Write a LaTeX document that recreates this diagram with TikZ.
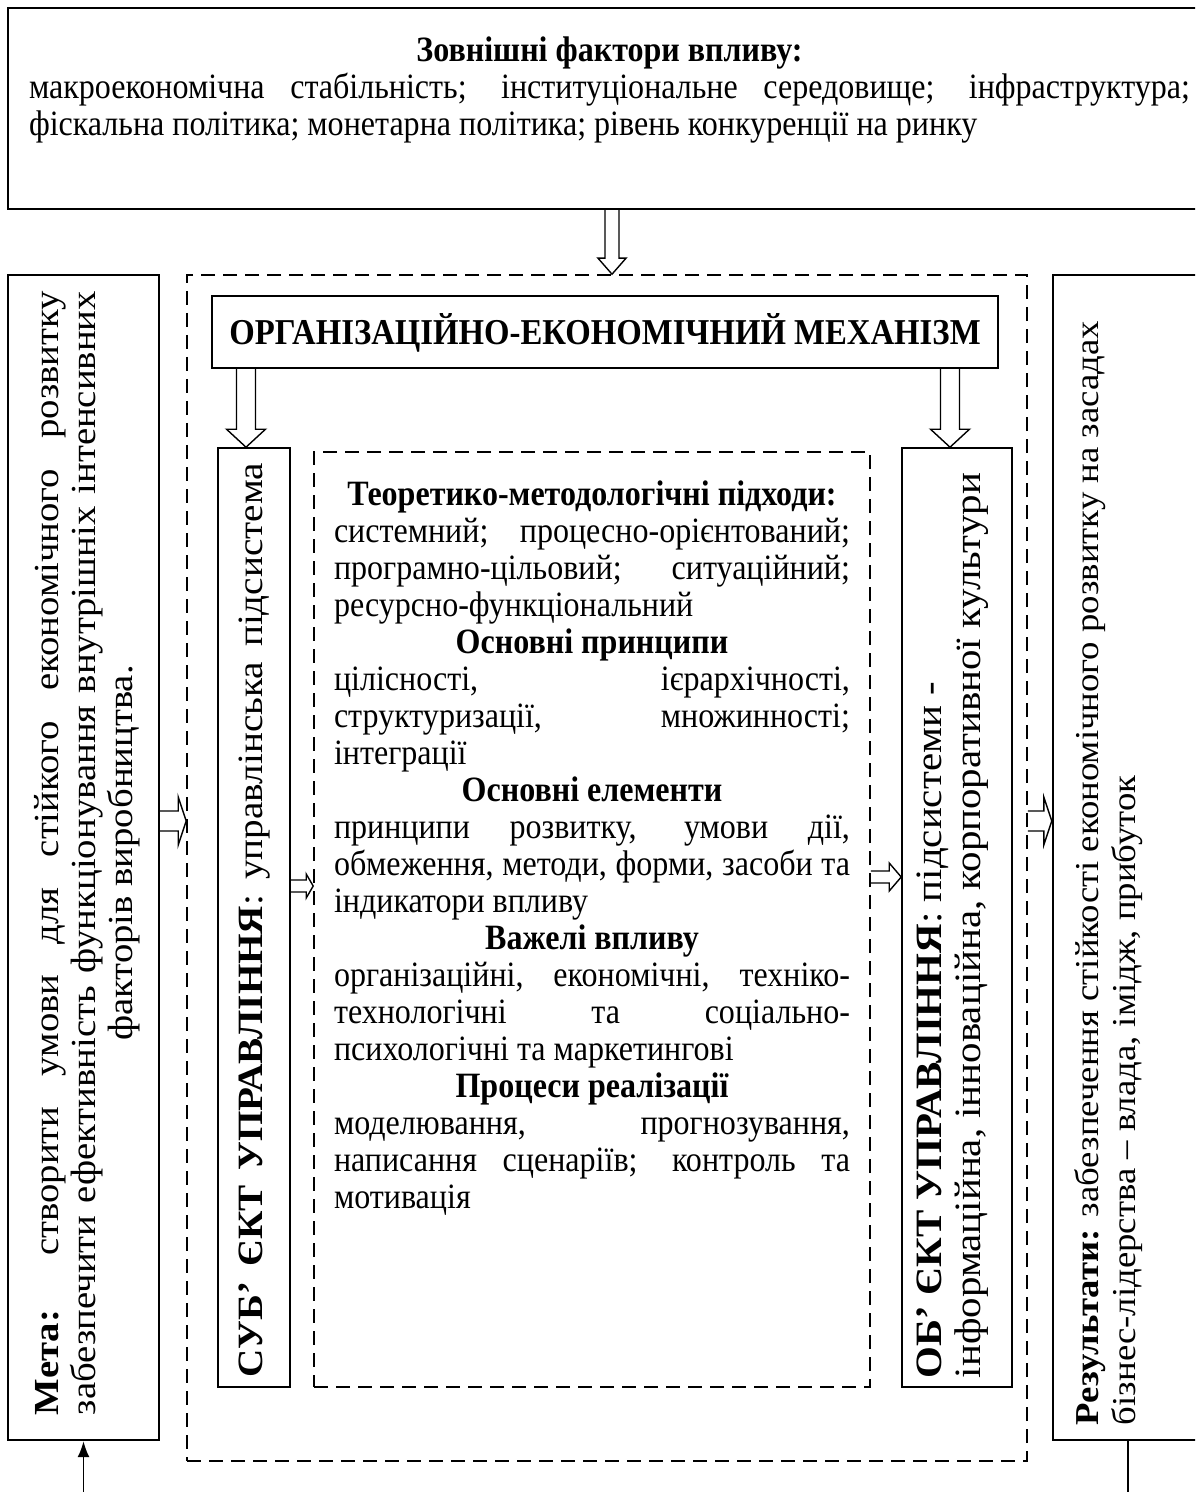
\documentclass[tikz,border=0pt]{standalone}
\usepackage{fontspec}
\setmainfont{Liberation Serif}[FakeStretch=0.9]
\newfontfamily\rotfont{Liberation Serif}[FakeStretch=1.1]
\usetikzlibrary{calc,fit,arrows.meta}
\hyphenpenalty=10000
\exhyphenpenalty=10000
\begin{document}
\begin{tikzpicture}[x=0.5pt,y=-0.5pt,
  font=\fontsize{17.8pt}{18.5pt}\selectfont,
  outerbox/.style={draw, line width=1.2pt, inner sep=0pt},
  innerbox/.style={draw, line width=0.8pt, inner sep=0pt},
  dashbox/.style={draw, line width=0.8pt, dash pattern=on 7pt off 4pt, inner sep=0pt},
  txt/.style={inner sep=0pt, outer sep=0pt},
  hollowdown/.style n args={3}{line width=0.7pt, to path={let \p1=(\tikztostart), \p2=(\tikztotarget) in
     (\x1-#1,\y1) -- (\x1-#1,\y2+#3) -- (\x1-#2,\y2+#3) -- (\x1,\y2) -- (\x1+#2,\y2+#3) -- (\x1+#1,\y2+#3) -- (\x1+#1,\y1)}},
  hollowright/.style n args={3}{line width=0.7pt, to path={let \p1=(\tikztostart), \p2=(\tikztotarget) in
     (\x1,\y1+#1) -- (\x2-#3,\y1+#1) -- (\x2-#3,\y1+#2) -- (\x2,\y1) -- (\x2-#3,\y1-#2) -- (\x2-#3,\y1-#1) -- (\x1,\y1-#1)}},
  feed/.style={line width=0.8pt},
]
\clip (0,0) rectangle (1195,1492);
\fill[white] (0,0) rectangle (1195,1492);

% boxes
\node[outerbox, fit={(8,8) (1240,209)}] (topbox) {};
\node[outerbox, fit={(8,275) (159,1440)}] (meta) {};
\node[outerbox, fit={(1053,275) (1240,1440)}] (res) {};
\node[dashbox, fit={(187,275) (1027,1461)}] (outer) {};
\node[innerbox, fit={(212,296) (998,368)}] (mech) {};
\node[innerbox, fit={(218,448) (290,1387)}] (sub) {};
\node[innerbox, fit={(902,448) (1012,1387)}] (ob) {};
\node[dashbox, fit={(314,452) (870,1387)}] (inner) {};

% texts
\node[txt, anchor=north, text width=580.5pt, align=justify] (toptext) at (609.5,36)
 {{\centering\bfseries\strut Зовнішні фактори впливу:\par}
  макроекономічна стабільність; інституціональне середовище; інфраструктура;\linebreak
  фіскальна політика; монетарна політика; рівень конкуренції на ринку};

\node[txt, anchor=base, font=\fontsize{18.2pt}{20pt}\selectfont\bfseries] (mechtext) at (605,344)
 {ОРГАНІЗАЦІЙНО-ЕКОНОМІЧНИЙ МЕХАНІЗМ};

\node[txt, anchor=north, text width=258pt, align=justify] (innertext) at (592,480)
 {{\centering\bfseries\strut Теоретико-методологічні підходи:\par}
  системний; процесно-орієнтований;\linebreak програмно-цільовий; ситуаційний;\linebreak ресурсно-функціональний\par
  {\centering\bfseries Основні принципи\par}
  цілісності, ієрархічності,\linebreak структуризації, множинності;\linebreak інтеграції\par
  {\centering\bfseries Основні елементи\par}
  принципи розвитку, умови дії,\linebreak обмеження, методи, форми, засоби та\linebreak індикатори впливу\par
  {\centering\bfseries Важелі впливу\par}
  організаційні, економічні, техніко-\linebreak технологічні та соціально-\linebreak психологічні та маркетингові\par
  {\centering\bfseries Процеси реалізації\par}
  моделювання, прогнозування,\linebreak написання сценаріїв; контроль та\linebreak мотивація};

\node[txt, rotate=90, anchor=north, align=center, font=\rotfont\fontsize{17.6pt}{18.6pt}\selectfont] (metatext) at (32,853)
 {\makebox[562pt][s]{\strut\textbf{Мета:} створити умови для стійкого економічного розвитку}\\
  \makebox[562pt][s]{забезпечити ефективність функціонування внутрішніх інтенсивних}\\
  факторів виробництва.};

\node[txt, rotate=90, anchor=north west, align=left, font=\rotfont\fontsize{16.7pt}{18.5pt}\selectfont] (restext) at (1073,1425)
 {\strut\textbf{Результати:} забезпечення стійкості економічного розвитку на засадах\\
  бізнес-лідерства – влада, імідж, прибуток};

\node[txt, rotate=90, anchor=north west, align=left, font=\rotfont\fontsize{18.6pt}{17.5pt}\selectfont] (obtext) at (917,1378)
 {\strut\textbf{ОБ’ ЄКТ УПРАВЛІННЯ}: підсистеми -\\
  інформаційна, інноваційна, корпоративної культури};

\node[txt, rotate=90, anchor=north west, font=\rotfont\fontsize{17.8pt}{18.5pt}\selectfont] (subtext) at (237,1377)
 {\makebox[457pt][s]{\strut\textbf{СУБ’ ЄКТ УПРАВЛІННЯ}: управлінська підсистема}};

% block arrows
\coordinate (xa) at (612,0);
\coordinate (xb) at (246,0);
\coordinate (xc) at (950,0);
\draw[hollowdown={3.5pt}{7pt}{8pt}] (topbox.south -| xa) to (outer.north -| xa);
\draw[hollowdown={4.75pt}{9.75pt}{9pt}] (mech.south -| xb) to (sub.north -| xb);
\draw[hollowdown={4.75pt}{9.75pt}{9pt}] (mech.south -| xc) to (ob.north -| xc);

\coordinate (ya) at (0,821);
\coordinate (yb) at (0,886);
\coordinate (yc) at (0,877);
\draw[hollowright={5pt}{12pt}{4pt}] (meta.east |- ya) to (outer.west |- ya);
\draw[hollowright={5pt}{12pt}{4pt}] (outer.east |- ya) to (res.west |- ya);
\draw[hollowright={3pt}{6pt}{3.5pt}] (sub.east |- yb) to (inner.west |- yb);
\draw[hollowright={3pt}{7pt}{6pt}] (inner.east |- yc) to (ob.west |- yc);

% feedback lines (cut by the bottom edge)
\coordinate (fbL) at (83.5,1510);
\coordinate (fbR) at (1128,1510);
\draw[feed, -{Latex[length=8pt,width=6pt]}] (fbL) -- (meta.south);
\draw[feed] (res.south -| fbR) -- (fbR);
\end{tikzpicture}
\end{document}
